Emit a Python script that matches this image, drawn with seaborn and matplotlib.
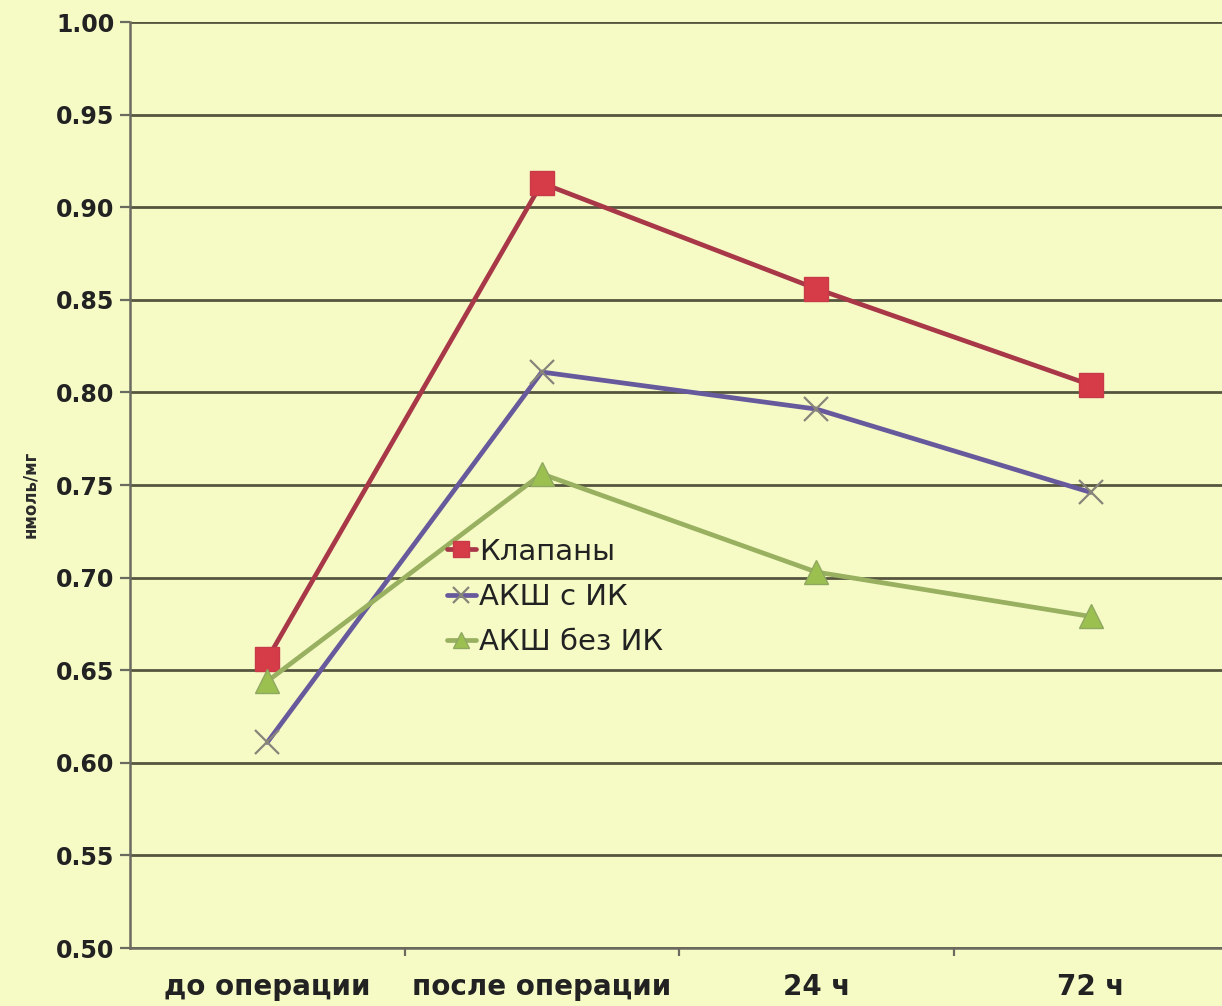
import matplotlib
matplotlib.use("Agg")
import matplotlib.pyplot as plt
import seaborn as sns
import pandas as pd

categories = ["до операции", "после операции", "24 ч", "72 ч"]
series_names = ["Клапаны", "АКШ с ИК", "АКШ без ИК"]
valves = [0.656, 0.913, 0.856, 0.804]
cabg_cpb = [0.611, 0.811, 0.791, 0.746]
cabg_offpump = [0.644, 0.756, 0.703, 0.679]
y_ticks = [0.50, 0.55, 0.60, 0.65, 0.70, 0.75, 0.80, 0.85, 0.90, 0.95, 1.00]

bg = "#f6fbc6"
sns.set_theme(style="white")
plt.rcParams["font.family"] = ["DejaVu Sans"]

fig = plt.figure(figsize=(12.22, 10.06), dpi=100, facecolor=bg)
ax = fig.add_axes([130 / 1222, 1 - 948 / 1006, 1098 / 1222, (948 - 22) / 1006])
ax.set_facecolor(bg)

df = pd.DataFrame({
    "cat": categories * 3,
    "val": valves + cabg_cpb + cabg_offpump,
    "series": [series_names[0]] * 4 + [series_names[1]] * 4 + [series_names[2]] * 4,
})

styles = {
    "Клапаны": dict(color="#a83848", marker="s", markersize=17, markerfacecolor="#d63c48",
                    markeredgecolor="#c83a48", markeredgewidth=1),
    "АКШ с ИК": dict(color="#665a9c", marker="x", markersize=17, markeredgecolor="#85857a",
                     markeredgewidth=1.6),
    "АКШ без ИК": dict(color="#98b060", marker="^", markersize=17, markerfacecolor="#9cc050",
                       markeredgecolor="#8fa860", markeredgewidth=1),
}

for name in series_names:
    sub = df[df["series"] == name]
    sns.lineplot(data=sub, x="cat", y="val", ax=ax, label=name, linewidth=3.4,
                 sort=False, zorder=3, **styles[name])

ax.set_xlim(-0.5, 3.5)
ax.set_ylim(0.50, 1.00)
ax.set_yticks(y_ticks)
ax.set_yticklabels([f"{v:.2f}" for v in y_ticks], fontsize=17, fontweight="bold", color="#222222")
ax.set_xticks(range(len(categories)))
ax.set_xticklabels(categories, fontsize=20, fontweight="bold", color="#222222")
ax.set_xticks([0.5, 1.5, 2.5], minor=True)
ax.tick_params(axis="x", which="major", length=0, pad=18)
ax.tick_params(axis="x", which="minor", bottom=True, length=6, width=1.6, color="#6a6a60", direction="out")
ax.tick_params(axis="y", left=True, length=7, width=1.6, color="#6a6a60", direction="out", pad=4)

ax.grid(axis="y", color="#55553f", linewidth=2.0)
ax.grid(axis="x", visible=False)
ax.set_axisbelow(True)

for side in ["top", "right"]:
    ax.spines[side].set_visible(False)
for side in ["left", "bottom"]:
    ax.spines[side].set_color("#6a6a60")
    ax.spines[side].set_linewidth(1.8)

ax.set_xlabel("")
ax.set_ylabel("нмоль/мг", fontsize=12, fontweight="bold", color="#2a2a2a")
ax.yaxis.set_label_coords(-0.083, 0.49)

leg = ax.legend(loc="center left", bbox_to_anchor=(432 / 1222, 1 - 597 / 1006),
                bbox_transform=fig.transFigure, frameon=False, fontsize=21,
                handlelength=1.0, handletextpad=0.1, labelspacing=0.6, markerscale=0.7,
                borderpad=0)
for t in leg.get_texts():
    t.set_color("#222222")

fig.savefig("out.png", dpi=100, facecolor=bg)
